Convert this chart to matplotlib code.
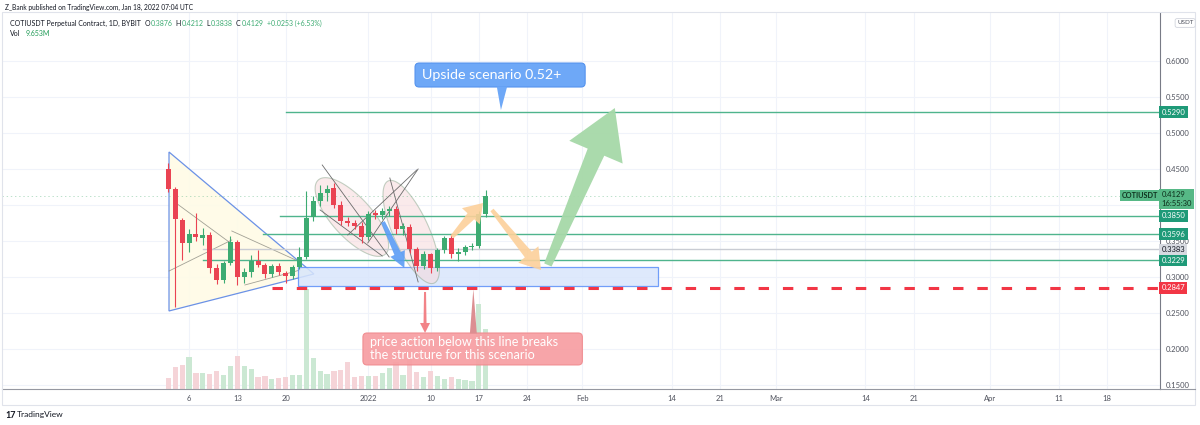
import matplotlib
matplotlib.use('Agg')
import matplotlib.pyplot as plt
import matplotlib.patches as mpatches
import matplotlib.transforms as mtransforms
import numpy as np

plt.rcParams['font.family'] = ['Lato', 'DejaVu Sans']
plt.rcParams['lines.scale_dashes'] = False

# day number, 0 = 1 Dec 2021 -> candles from 3 Dec 2021 to 18 Jan 2022
days = np.arange(2, 49)
opens = [0.450, 0.422, 0.379, 0.347, 0.360, 0.354, 0.358, 0.312, 0.296, 0.319,
         0.349, 0.300, 0.307, 0.322, 0.316, 0.304, 0.315, 0.306, 0.301, 0.314,
         0.328, 0.383, 0.405, 0.416, 0.423, 0.400, 0.378, 0.375, 0.371, 0.3556,
         0.389, 0.386, 0.392, 0.394, 0.367, 0.370, 0.339, 0.315, 0.332, 0.3125,
         0.3375, 0.354, 0.332, 0.335, 0.342, 0.343, 0.3876]
highs = [0.458, 0.425, 0.382, 0.366, 0.389, 0.368, 0.362, 0.318, 0.322, 0.357,
         0.352, 0.312, 0.330, 0.337, 0.320, 0.318, 0.320, 0.309, 0.317, 0.341,
         0.420, 0.412, 0.428, 0.428, 0.4305, 0.405, 0.384, 0.379, 0.376, 0.392,
         0.393, 0.396, 0.399, 0.398, 0.375, 0.374, 0.342, 0.336, 0.334, 0.340,
         0.357, 0.360, 0.340, 0.345, 0.347, 0.392, 0.4212]
lows = [0.418, 0.258, 0.324, 0.335, 0.350, 0.345, 0.306, 0.290, 0.291, 0.316,
        0.289, 0.292, 0.300, 0.314, 0.299, 0.300, 0.303, 0.291, 0.297, 0.311,
        0.325, 0.378, 0.398, 0.405, 0.396, 0.372, 0.371, 0.366, 0.347, 0.352,
        0.381, 0.380, 0.385, 0.360, 0.358, 0.334, 0.309, 0.311, 0.305, 0.309,
        0.334, 0.327, 0.322, 0.330, 0.338, 0.340, 0.3838]
closes = [0.422, 0.381, 0.347, 0.360, 0.355, 0.358, 0.3125, 0.296, 0.319, 0.349,
          0.300, 0.307, 0.322, 0.317, 0.304, 0.315, 0.307, 0.301, 0.314, 0.328,
          0.382, 0.4055, 0.4167, 0.422, 0.400, 0.378, 0.375, 0.371, 0.3556, 0.3875,
          0.386, 0.392, 0.394, 0.3667, 0.371, 0.339, 0.315, 0.332, 0.3125, 0.3375,
          0.354, 0.332, 0.335, 0.342, 0.343, 0.3876, 0.4129]
volumes = [1.76, 3.52, 3.79, 5.12, 2.56, 2.56, 2.35, 2.83, 2.29, 3.63,
           5.23, 3.73, 3.20, 1.87, 2.13, 1.60, 1.76, 1.92, 2.19, 2.19,
           16.0, 4.91, 2.83, 2.35, 2.83, 3.09, 4.27, 1.92, 2.13, 2.13,
           2.13, 2.56, 3.36, 4.32, 2.29, 4.96, 2.72, 1.92, 2.83, 2.03,
           1.60, 1.92, 1.60, 1.49, 1.23, 13.6, 9.65]

tick_days = [5, 12, 19, 31, 40, 47, 54, 62, 75, 82, 90, 103, 110, 121, 131, 138]
tick_labels = ['6', '13', '20', '2022', '10', '17', '24', 'Feb', '14', '21',
               'Mar', '14', '21', 'Apr', '11', '18']
grid_prices = [0.15, 0.20, 0.25, 0.30, 0.35, 0.40, 0.45, 0.50, 0.55, 0.60]
price_ticks = [0.15, 0.20, 0.25, 0.30, 0.35, 0.45, 0.50, 0.55, 0.60]

level_prices = [0.5290, 0.3850, 0.3596, 0.3229]
level_starts = [19.1, 18.2, 15.7, 7.0]
gray_level = 0.3383
stop_level = 0.2847
last_price = 0.4129

UP, DOWN = '#3dab72', '#ea4352'
UP_VOL, DOWN_VOL = '#cbe8d3', '#f5d4d8'
LEVEL = '#4fb48d'
TAG = '#1f9a78'
DARK = '#131722'

# plot area in pixels and its limits
W, H = 1200, 425
AX_L, AX_R, AX_T, AX_B = 2, 1160, 13, 389
XMIN, XMAX = -22.1, 145.7
YMIN, YMAX = 0.1444, 0.6667
SX = (AX_R - AX_L) / (XMAX - XMIN)
SY = (AX_B - AX_T) / (YMAX - YMIN)


def to_px(d, p):
    return (d - XMIN) * SX, (p - YMIN) * SY


def to_data(x, y):
    return x / SX + XMIN, y / SY + YMIN


def arrow(tail, tip, w0, w1, hw, hl, color, alpha=1.0, z=6):
    x0, y0 = to_px(*tail)
    x1, y1 = to_px(*tip)
    L = np.hypot(x1 - x0, y1 - y0)
    ux, uy = (x1 - x0) / L, (y1 - y0) / L
    nx, ny = -uy, ux
    cx, cy = x1 - ux * hl, y1 - uy * hl
    pts = [(x0 + nx * w0 / 2, y0 + ny * w0 / 2), (cx + nx * w1 / 2, cy + ny * w1 / 2),
           (cx + nx * hw / 2, cy + ny * hw / 2), (x1, y1),
           (cx - nx * hw / 2, cy - ny * hw / 2), (cx - nx * w1 / 2, cy - ny * w1 / 2),
           (x0 - nx * w0 / 2, y0 - ny * w0 / 2)]
    ax.add_patch(mpatches.Polygon([to_data(*q) for q in pts], closed=True,
                                  fc=color, ec='none', alpha=alpha, zorder=z))


def ellipse(center, w, h, angle, z=3):
    cx, cy = to_px(*center)
    t = np.linspace(0, 2 * np.pi, 120)
    a = np.radians(angle)
    xs = cx + w / 2 * np.cos(t) * np.cos(a) - h / 2 * np.sin(t) * np.sin(a)
    ys = cy + w / 2 * np.cos(t) * np.sin(a) + h / 2 * np.sin(t) * np.cos(a)
    ax.add_patch(mpatches.Polygon([to_data(x, y) for x, y in zip(xs, ys)], closed=True,
                                  fc='#f7d9db', ec='#93ad95', lw=0.8, alpha=0.55, zorder=z))


fig = plt.figure(figsize=(12, 4.25), dpi=100)
rect = [AX_L / W, 1 - AX_B / H, (AX_R - AX_L) / W, (AX_B - AX_T) / H]
axv = fig.add_axes(rect)
ax = fig.add_axes(rect)
ax.patch.set_visible(False)

for a in (axv, ax):
    a.set_xlim(XMIN, XMAX)
ax.set_ylim(YMIN, YMAX)
axv.set_ylim(0, 60.2)

# grid (under volume)
for d in tick_days:
    axv.axvline(d, color='#f0f3fa', lw=0.8, zorder=0)
gtr = mtransforms.blended_transform_factory(axv.transAxes, ax.transData)
for p in grid_prices:
    axv.plot([0, 1], [p, p], color='#f0f3fa', lw=0.8, transform=gtr, zorder=0)

# volume
up = np.array(closes) >= np.array(opens)
axv.bar(days, volumes, width=0.75, color=np.where(up, UP_VOL, DOWN_VOL), zorder=1)
axv.axis('off')

# triangle pattern
ax.add_patch(mpatches.Polygon([(2.1, 0.4736), (2.1, 0.2528), (23.1, 0.3042)], closed=True,
                              fc='#fffbe6', ec='#5b86e5', lw=0.9, alpha=0.9, zorder=1))
for (xa, ya), (xb, yb) in [((3.1, 0.4028), (11.2, 0.3458)), ((2.1, 0.3083), (11.2, 0.3514)),
                           ((11.2, 0.3639), (21.1, 0.3208)), ((13.1, 0.2889), (21.1, 0.3097))]:
    ax.plot([xa, xb], [ya, yb], color='#8a8a80', lw=0.6, alpha=0.8, zorder=2)

# support box
ax.add_patch(mpatches.Rectangle((20.8, 0.2875), 52.2, 0.0268, fc='#d9e6fc', ec='#5b8ff9',
                                lw=0.9, alpha=0.85, zorder=2))

# ellipses and trend lines
ellipse((28.6, 0.3833), 100, 40, -47.7)
ellipse((37.2, 0.3625), 112, 36, -65.8)
for (xa, ya), (xb, yb) in [((24.3, 0.4556), (34.0, 0.3278)), ((24.0, 0.3931), (33.0, 0.3292)),
                           ((28.0, 0.3583), (38.0, 0.4486)), ((30.9, 0.3472), (38.2, 0.4500)),
                           ((34.1, 0.4375), (38.2, 0.2931))]:
    ax.plot([xa, xb], [ya, yb], color='#6b6b6b', lw=0.6, zorder=4)

# horizontal levels
for p, s in zip(level_prices, level_starts):
    ax.plot([s, XMAX], [p, p], color=LEVEL, lw=1.0, zorder=3)
ax.plot([7.0, XMAX], [gray_level, gray_level], color='#c9ccd3', lw=1.0, zorder=3)
ax.axhline(last_price, color='#7cc49a', lw=0.6, ls=(0, (1, 2)), alpha=0.6, zorder=3)
ax.plot([17.0, XMAX], [stop_level, stop_level], color='#f23645', lw=2.2,
        dashes=(7.5, 10), zorder=5)

# candles
cols = np.where(up, UP, DOWN)
ax.vlines(days, lows, highs, colors=cols, lw=0.8, zorder=5)
body = np.maximum(np.abs(np.array(closes) - np.array(opens)), 0.0015)
ax.bar(days, body, bottom=np.minimum(opens, closes), width=0.72, color=cols, zorder=5)

# arrows
arrow((33.1, 0.3764), (36.2, 0.3125), 4, 7, 16, 16, '#5b9cf5', 0.9)
arrow((43.1, 0.3556), (47.6, 0.4028), 4, 9, 24, 18, '#fcd09a', 0.9)
arrow((48.9, 0.3931), (56.0, 0.3097), 4, 9, 26, 20, '#fcd09a', 0.9)
arrow((57.0, 0.3167), (66.7, 0.5347), 8, 18, 58, 48, '#a6d8a8', 0.95)
arrow((39.2, 0.2792), (39.2, 0.2222), 2, 3, 10, 10, '#f27c82', 0.95)

# callouts
asp = SX / SY
ax.add_patch(mpatches.FancyBboxPatch((37.75, 0.5639), 24.65, 0.0333,
                                     boxstyle='round,pad=0,rounding_size=0.6', mutation_aspect=asp,
                                     fc='#6ea8f7', ec='#5593ee', lw=0.8, zorder=8))
ax.add_patch(mpatches.Polygon([(49.6, 0.5645), (51.1, 0.5645), (50.2, 0.5319)], closed=True,
                              fc='#6ea8f7', ec='none', zorder=8))
ax.text(38.8, 0.5806, 'Upside scenario 0.52+', color='white', fontsize=10.3,
        va='center', ha='left', zorder=9)

ax.add_patch(mpatches.FancyBboxPatch((30.2, 0.1778), 31.8, 0.0444,
                                     boxstyle='round,pad=0,rounding_size=0.6', mutation_aspect=asp,
                                     fc='#f79ea2', ec='#f08a8e', lw=0.8, alpha=0.92, zorder=8))
ax.add_patch(mpatches.Polygon([(45.7, 0.2215), (46.7, 0.2215), (46.2, 0.2833)], closed=True,
                              fc='#dc8f92', ec='none', zorder=8))
ax.text(31.2, 0.2090, 'price action below this line breaks', color='white', fontsize=9.1,
        va='center', ha='left', zorder=9)
ax.text(31.2, 0.1920, 'the structure for this scenario', color='white', fontsize=9.1,
        va='center', ha='left', zorder=9)

# axes styling
for s in ('top', 'left'):
    ax.spines[s].set_visible(False)
ax.spines['right'].set_color('#787b86')
ax.spines['right'].set_linewidth(0.8)
ax.spines['bottom'].set_color('#9598a1')
ax.spines['bottom'].set_linewidth(0.8)
ax.yaxis.tick_right()
ax.set_yticks(price_ticks, ['%.4f' % p for p in price_ticks])
ax.set_xticks(tick_days, tick_labels)
ax.tick_params(axis='y', length=0, pad=4, labelsize=5.5, labelcolor='#50535e')
ax.tick_params(axis='x', length=0, pad=4, labelsize=5.5, labelcolor='#50535e')


def tag(p, s, bg, fg='white'):
    ax.text(1.0013, p, s, transform=ax.get_yaxis_transform(), ha='left', va='center',
            fontsize=5.5, color=fg, clip_on=False, zorder=12,
            bbox=dict(boxstyle='square,pad=0.3', fc=bg, ec='none'))


for p in level_prices:
    tag(p, '%.4f' % p, TAG)
tag(gray_level, '%.4f' % gray_level, '#d6d9e0', DARK)
tag(stop_level, '%.4f' % stop_level, '#f23645')
tag(last_price - 0.0045, '%.4f\n16:55:30' % last_price, '#56b886', '#0d2e1b')
ax.text(0.9985, last_price, 'COTIUSDT', transform=ax.get_yaxis_transform(), ha='right',
        va='center', fontsize=5.2, color='#0d2e1b', fontweight='bold', zorder=12,
        bbox=dict(boxstyle='square,pad=0.3', fc='#56b886', ec='none'))

# frame, header and footer
fig.add_artist(mpatches.Rectangle((2 / W, 1 - 405 / H), 1193 / W, 393 / H, transform=fig.transFigure,
                                  fill=False, ec='#e0e3eb', lw=0.8))
fig.add_artist(plt.Line2D([AX_R / W, 1195 / W], [1 - AX_B / H, 1 - AX_B / H],
                          transform=fig.transFigure, color='#9598a1', lw=0.8))
fig.text(1177 / W, 1 - 23 / H, 'USDT', fontsize=4.5, color='#50535e', ha='left', va='center',
         bbox=dict(boxstyle='round,pad=0.3', fc='white', ec='#d1d4dc', lw=0.6))

fig.text(5 / W, 1 - 7 / H, 'Z_Bank published on TradingView.com, Jan 18, 2022 07:04 UTC',
         fontsize=4.8, color=DARK, va='center')

renderer = fig.canvas.get_renderer()


def text_row(x, y, pieces, size):
    # lay text pieces one after another, gaps in pixels
    for s, c, gap in pieces:
        t = fig.text(x / W, 1 - y / H, s, fontsize=size, color=c, va='center')
        x = t.get_window_extent(renderer).x1 + gap


text_row(10, 23, [('COTIUSDT Perpetual Contract, 1D, BYBIT', DARK, 3.5),
                  ('O', DARK, 0.8), ('0.3876', UP, 3), ('H', DARK, 0.8), ('0.4212', UP, 3),
                  ('L', DARK, 0.8), ('0.3838', UP, 3), ('C', DARK, 0.8), ('0.4129', UP, 4),
                  ('+0.0253 (+6.53%)', UP, 0)], 5.0)
text_row(10, 33, [('Vol', DARK, 5), ('9.653M', '#1f9a55', 0)], 5.0)

fig.text(5 / W, 1 - 415 / H, '17', fontsize=6.5, fontweight='bold', color=DARK, va='center')
fig.text(17 / W, 1 - 415 / H, 'TradingView', fontsize=6, color=DARK, va='center')

fig.savefig('out.png', dpi=100, facecolor='white')
